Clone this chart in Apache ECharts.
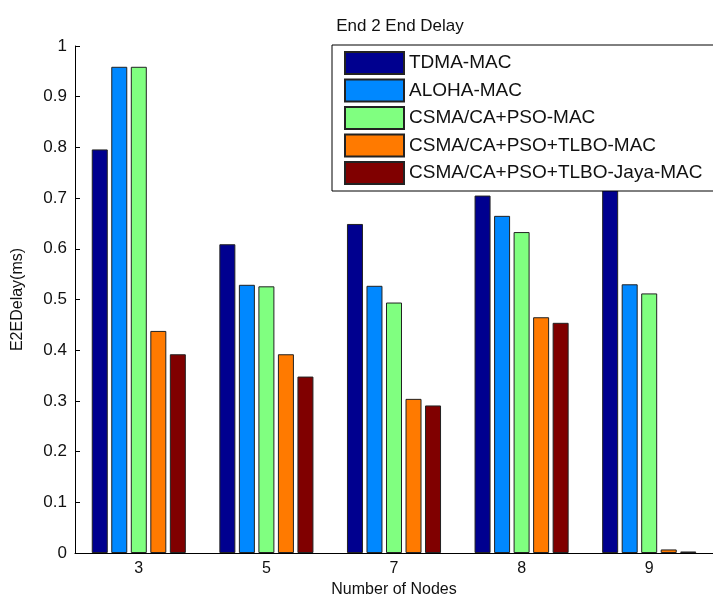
<!DOCTYPE html>
<html>
<head>
<meta charset="utf-8">
<script src="https://cdn.jsdelivr.net/npm/echarts@6/dist/echarts.min.js"></script>
<style>
  html, body { margin: 0; padding: 0; background: #fff; }
  #chart { width: 713px; height: 603px; }
</style>
</head>
<body>
<div id="chart"></div>
<script>
var nodes = ['3', '5', '7', '8', '9'];
var seriesNames = ['TDMA-MAC', 'ALOHA-MAC', 'CSMA/CA+PSO-MAC', 'CSMA/CA+PSO+TLBO-MAC', 'CSMA/CA+PSO+TLBO-Jaya-MAC'];
var tdma = [0.796, 0.609, 0.649, 0.705, 0.75];
var aloha = [0.959, 0.529, 0.527, 0.665, 0.530];
var csmaPso = [0.959, 0.526, 0.494, 0.633, 0.512];
var csmaTlbo = [0.438, 0.392, 0.304, 0.465, 0.007];
var csmaJaya = [0.392, 0.348, 0.291, 0.454, 0.003];
var colors = ['#00008F', '#0088FF', '#80FF80', '#FF7A00', '#800000'];

var allData = [tdma, aloha, csmaPso, csmaTlbo, csmaJaya];
var font = 'Liberation Sans, Arial, sans-serif';

var myChart = echarts.init(document.getElementById('chart'));

var series = allData.map(function (d, i) {
    return {
        name: seriesNames[i],
        type: 'bar',
        data: d,
        barWidth: 16,
        barGap: '22%',
        itemStyle: { color: colors[i], borderColor: '#222', borderWidth: 1 },
        emphasis: { disabled: true }
    };
});

var option = {
    animation: false,
    backgroundColor: '#fff',
    title: {
        text: 'End 2 End Delay',
        left: 395,
        textAlign: 'center',
        top: 13,
        textStyle: { fontFamily: font, fontSize: 17, fontWeight: 'normal', color: '#111' }
    },
    legend: {
        orient: 'vertical',
        left: 332,
        top: 45,
        padding: [6, 30, 6, 12],
        itemWidth: 59,
        itemHeight: 22,
        itemGap: 3.5,
        icon: 'rect',
        borderColor: '#000',
        borderWidth: 1,
        borderRadius: 0,
        backgroundColor: '#fff',
        textStyle: { fontFamily: font, fontSize: 19, color: '#111' },
        data: seriesNames
    },
    grid: { left: 75, top: 46, width: 641, height: 507 },
    xAxis: {
        type: 'category',
        data: nodes,
        name: 'Number of Nodes',
        nameLocation: 'middle',
        nameGap: 25,
        nameTextStyle: { fontFamily: font, fontSize: 16, color: '#111' },
        axisLine: { lineStyle: { color: '#000' } },
        axisTick: { alignWithLabel: true, inside: true, length: 5, lineStyle: { color: '#000' } },
        axisLabel: { fontFamily: font, fontSize: 16, color: '#111', margin: 8 }
    },
    yAxis: {
        type: 'value',
        min: 0,
        max: 1,
        interval: 0.1,
        name: 'E2EDelay(ms)',
        nameLocation: 'middle',
        nameGap: 49,
        nameTextStyle: { fontFamily: font, fontSize: 16, color: '#111' },
        axisLine: { show: true, lineStyle: { color: '#000' } },
        axisTick: { show: true, inside: true, length: 5, lineStyle: { color: '#000' } },
        splitLine: { show: false },
        axisLabel: { fontFamily: font, fontSize: 17, color: '#111', margin: 8 }
    },
    series: series
};

myChart.setOption(option);
</script>
</body>
</html>
